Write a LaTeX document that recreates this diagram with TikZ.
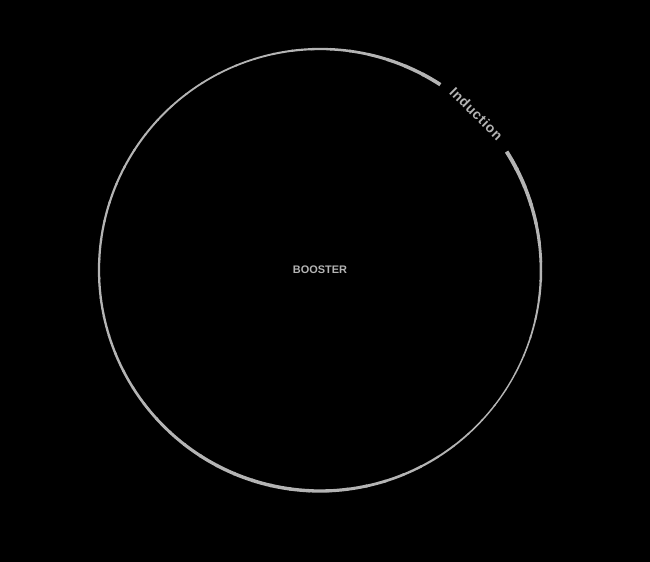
\documentclass[tikz,border=0pt]{standalone}
\usepackage{fontspec}
\setmainfont{Liberation Sans}
\definecolor{ringgray}{HTML}{B4B4B4}
\begin{document}
\begin{tikzpicture}[x=1bp,y=1bp]
  \fill[black] (-320,-292) rectangle (330,270);
  \coordinate (O) at (0,0);
  \foreach \a [evaluate=\a as \w using {2.6+0.21*cos(\a)-0.125*cos(2*\a)+0.875*sin(2*\a)+0.515*sin(3*\a)}] in {57,62,...,388}
    \draw[ringgray,line width=\w bp] (O) ++(\a:221) arc[start angle=\a,delta angle=5.4,radius=221];
  \node[text=ringgray,font=\bfseries\fontsize{11}{13}\selectfont] (booster) at (O) {BOOSTER};
  \node[text=ringgray,rotate=-45,font=\bfseries\fontsize{14}{16}\selectfont\addfontfeature{LetterSpace=5}] (induction) at (45:221) {Induction};
\end{tikzpicture}
\end{document}
